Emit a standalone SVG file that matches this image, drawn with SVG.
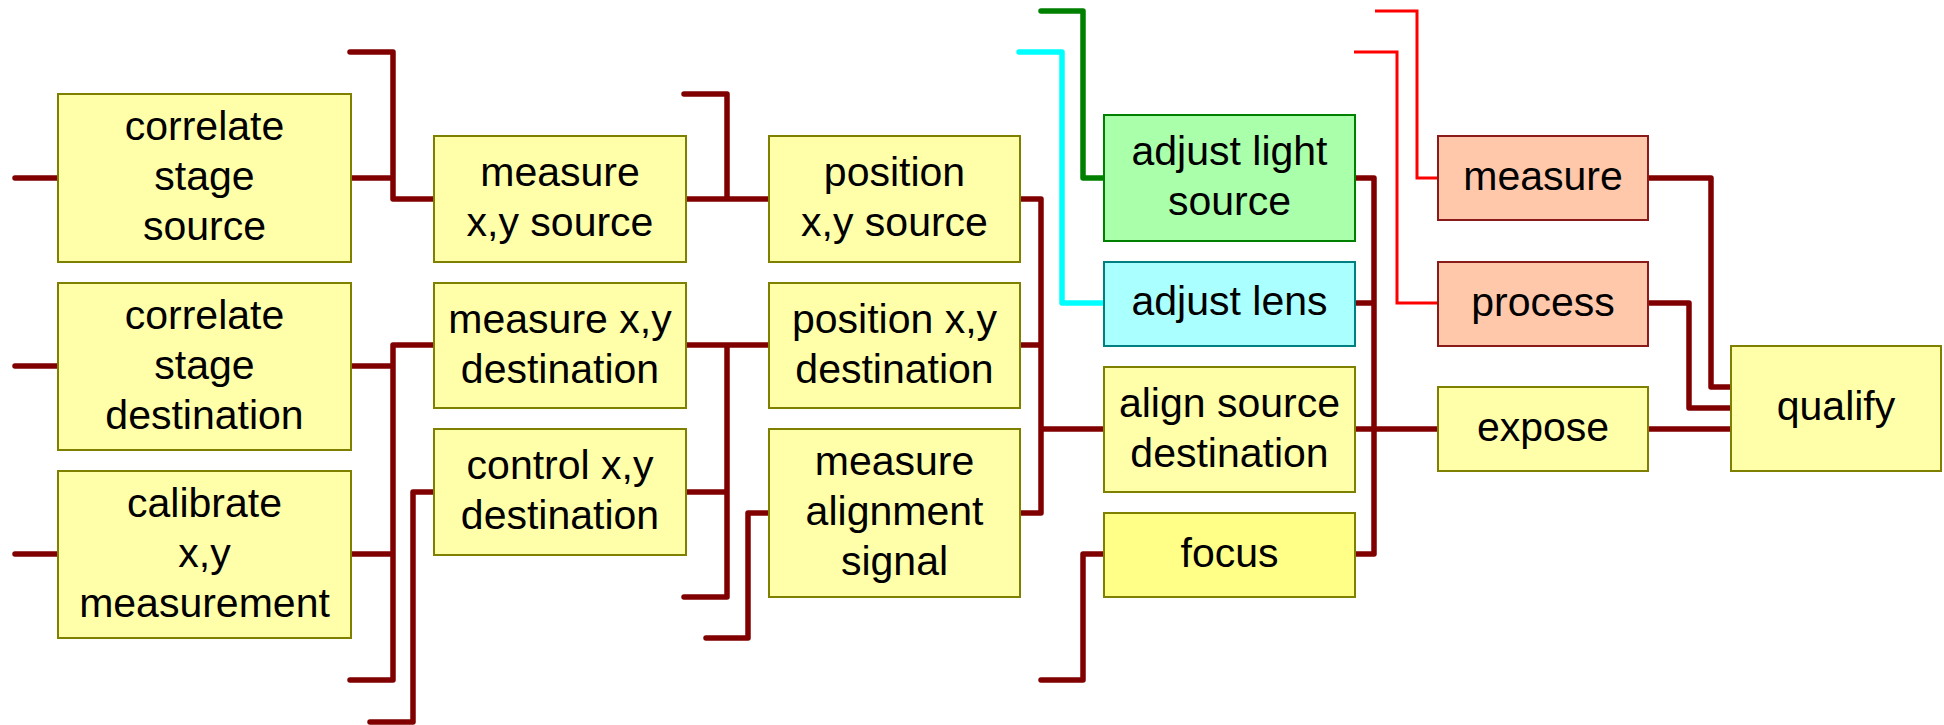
<svg xmlns="http://www.w3.org/2000/svg" width="1944" height="725" viewBox="0 0 1944 725">
<style>
.box{fill:#ffffaa;stroke:#808000;stroke-width:2}
.focus{fill:#ffff88;stroke:#808000;stroke-width:2}
.green{fill:#aaffaa;stroke:#008000;stroke-width:2}
.cyan{fill:#aaffff;stroke:#008080;stroke-width:2}
.peach{fill:#ffc8aa;stroke:#8b1a1a;stroke-width:2}
text{font-family:"Liberation Sans",Arial,sans-serif;font-size:41px;fill:#000;text-anchor:middle}
.c{fill:none;stroke-linecap:round;stroke-linejoin:round}
.dr{stroke:#800000;stroke-width:5.5}
.gr{stroke:#008000;stroke-width:5.5}
.cy{stroke:#00ffff;stroke-width:5.5}
.rd{stroke:#ff0000;stroke-width:3;stroke-linecap:butt;stroke-linejoin:miter}
</style>
<rect width="1944" height="725" fill="#ffffff"/>
<g id="connectors">
<path class="c dr" d="M15,178 H58 M15,366 H58 M15,554 H58"/>
<path class="c dr" d="M351,178 H393 M350,52 H393 V199 H434"/>
<path class="c dr" d="M351,366 H393 M351,554 H393 M350,680 H393 V345 H434"/>
<path class="c dr" d="M434,492 H413 V722 H370"/>
<path class="c dr" d="M686,199 H769 M684,94 H727 V199"/>
<path class="c dr" d="M686,345 H769 M686,492 H727 M684,597 H727 V345"/>
<path class="c dr" d="M769,513 H748 V638 H706"/>
<path class="c dr" d="M1020,199 H1041 V513 H1020 M1020,345 H1041 M1041,429 H1104"/>
<path class="c gr" d="M1041,11 H1083 V178 H1104"/>
<path class="c cy" d="M1019,52 H1062 V303 H1104"/>
<path class="c dr" d="M1104,554 H1083 V680 H1041"/>
<path class="c dr" d="M1355,178 H1374 V554 H1355 M1355,303 H1374 M1355,429 H1438"/>
<path class="c rd" d="M1375,11 H1417 V178 H1438 M1354,52 H1397 V303 H1438"/>
<path class="c dr" d="M1648,178 H1711 V387 H1731"/>
<path class="c dr" d="M1648,303 H1689 V408 H1731"/>
<path class="c dr" d="M1648,429 H1731"/>
</g>
<g id="correlate-stage-source"><rect class="box" x="58" y="94" width="293" height="168"/><text x="204.5" y="140">correlate</text><text x="204.5" y="190">stage</text><text x="204.5" y="240">source</text></g>
<g id="correlate-stage-destination"><rect class="box" x="58" y="283" width="293" height="167"/><text x="204.5" y="328.5">correlate</text><text x="204.5" y="378.5">stage</text><text x="204.5" y="428.5">destination</text></g>
<g id="calibrate-xy-measurement"><rect class="box" x="58" y="471" width="293" height="167"/><text x="204.5" y="516.5">calibrate</text><text x="204.5" y="566.5">x,y</text><text x="204.5" y="616.5">measurement</text></g>
<g id="measure-xy-source"><rect class="box" x="434" y="136" width="252" height="126"/><text x="560" y="186">measure</text><text x="560" y="236">x,y source</text></g>
<g id="measure-xy-destination"><rect class="box" x="434" y="283" width="252" height="125"/><text x="560" y="332.5">measure x,y</text><text x="560" y="382.5">destination</text></g>
<g id="control-xy-destination"><rect class="box" x="434" y="429" width="252" height="126"/><text x="560" y="479">control x,y</text><text x="560" y="529">destination</text></g>
<g id="position-xy-source"><rect class="box" x="769" y="136" width="251" height="126"/><text x="894.5" y="186">position</text><text x="894.5" y="236">x,y source</text></g>
<g id="position-xy-destination"><rect class="box" x="769" y="283" width="251" height="125"/><text x="894.5" y="332.5">position x,y</text><text x="894.5" y="382.5">destination</text></g>
<g id="measure-alignment-signal"><rect class="box" x="769" y="429" width="251" height="168"/><text x="894.5" y="475">measure</text><text x="894.5" y="525">alignment</text><text x="894.5" y="575">signal</text></g>
<g id="adjust-light-source"><rect class="green" x="1104" y="115" width="251" height="126"/><text x="1229.5" y="165">adjust light</text><text x="1229.5" y="215">source</text></g>
<g id="adjust-lens"><rect class="cyan" x="1104" y="262" width="251" height="84"/><text x="1229.5" y="315">adjust lens</text></g>
<g id="align-source-destination"><rect class="box" x="1104" y="367" width="251" height="125"/><text x="1229.5" y="416.5">align source</text><text x="1229.5" y="466.5">destination</text></g>
<g id="focus"><rect class="focus" x="1104" y="513" width="251" height="84"/><text x="1229.5" y="567">focus</text></g>
<g id="measure"><rect class="peach" x="1438" y="136" width="210" height="84"/><text x="1543" y="190">measure</text></g>
<g id="process"><rect class="peach" x="1438" y="262" width="210" height="84"/><text x="1543" y="316">process</text></g>
<g id="expose"><rect class="box" x="1438" y="387" width="210" height="84"/><text x="1543" y="441">expose</text></g>
<g id="qualify"><rect class="box" x="1731" y="346" width="210" height="125"/><text x="1836" y="420">qualify</text></g>
</svg>
